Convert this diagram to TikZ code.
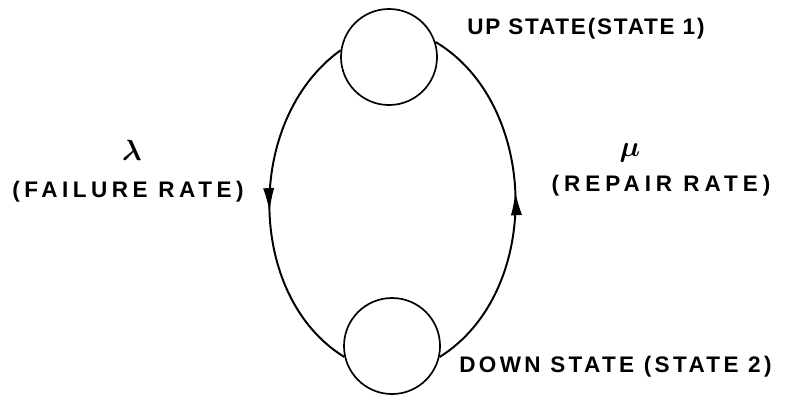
\documentclass[tikz,border=0pt]{standalone}
\usepackage{fontspec}
\usepackage{amsmath}
\setmainfont{Liberation Sans}
\newfontfamily\stencilfont{Liberation Sans}
\usetikzlibrary{arrows.meta, decorations.markings}

\begin{document}
\begin{tikzpicture}[
    x=0.025cm, y=-0.025cm, % one unit = one pixel of the sketch
    state/.style={circle, draw, line width=1.2pt, minimum size=2.4cm, inner sep=0pt},
    link/.style={line width=1.4pt},
    midarrow/.style={postaction={decorate},
        decoration={markings, mark=at position 0.52 with {\arrow{Latex[length=6mm,width=2.8mm]}}}},
    lbl/.style={font=\stencilfont\bfseries\fontsize{16}{19}\selectfont\addfontfeatures{LetterSpace=#1}, inner sep=0pt},
    rate/.style={font=\fontsize{22}{24}\selectfont\boldmath, inner sep=0pt}
]
\useasboundingbox (0,0) rectangle (786,404);

% States
\node[state] (up) at (389,57) {};
\node[state] (down) at (392,346) {};

% State labels
\node[lbl=8, anchor=west] (uplbl) at (467,29) {UP STATE(STATE 1)};
\node[lbl=15, anchor=west] (downlbl) at (459,367) {DOWN STATE (STATE 2)};

% Transitions
\draw[link, midarrow] (up.172) .. controls +(-97,70) and +(-98,-60) .. (down.193);
\draw[link, midarrow] (down.-13) .. controls +(104,-65) and +(104,62) .. (up.18);

% Rates
\node[rate] (lam) at (132,150) {$\lambda$};
\node[lbl=20] (faillbl) at (128,192) {(FAILURE RATE)};
\node[rate] (mu) at (630,153) {$\mu$};
\node[lbl=22] (replbl) at (661,186) {(REPAIR RATE)};

\end{tikzpicture}
\end{document}
